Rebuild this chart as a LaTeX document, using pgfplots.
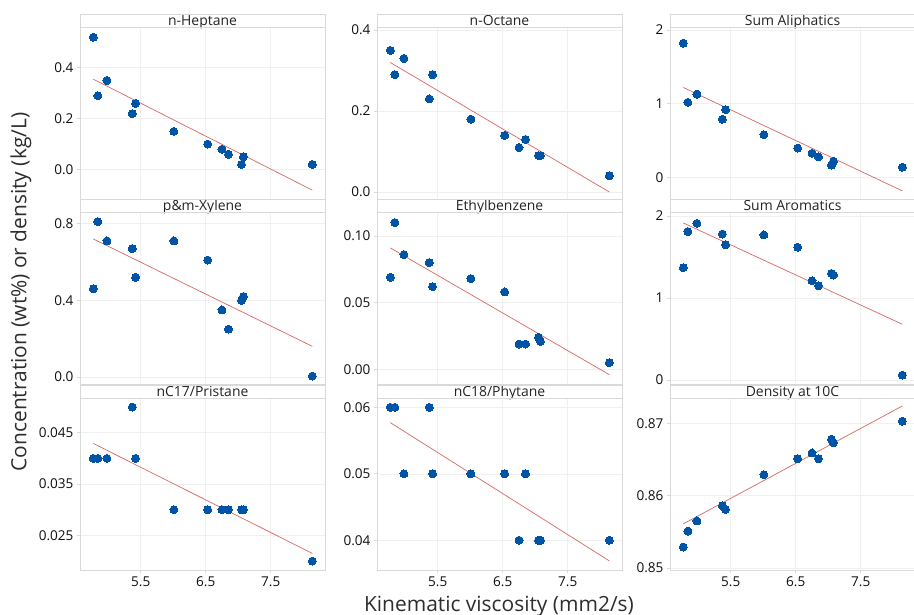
\documentclass[border=0pt]{standalone}
\usepackage{pgfplots}
\pgfplotsset{compat=1.18}
\usepackage{pgfplotstable}
\usepackage{fontspec}
\setmainfont{Open Sans}

\definecolor{dotc}{RGB}{0,84,166}
\definecolor{fitc}{RGB}{214,104,98}
\definecolor{framec}{RGB}{217,217,217}
\definecolor{gridc}{RGB}{240,240,240}
\definecolor{tickc}{RGB}{15,15,15}
\definecolor{titlec}{RGB}{35,35,35}
\definecolor{labc}{RGB}{45,45,45}

% viscosity (mm2/s) and the measured properties of each sample
\pgfplotstableread{
visc hep  oct  ali  xyl   eth   aro  pri   phy  dens
4.77 0.52 0.35 1.82 0.46  0.069 1.37 0.040 0.06 0.8529
4.84 0.29 0.29 1.02 0.81  0.110 1.81 0.040 0.06 0.8551
4.98 0.35 0.33 1.13 0.71  0.086 1.91 0.040 0.05 0.8565
5.37 0.22 0.23 0.79 0.67  0.080 1.78 0.050 0.06 0.8586
5.42 0.26 0.29 0.92 0.52  0.062 1.65 0.040 0.05 0.8581
6.01 0.15 0.18 0.58 0.71  0.068 1.77 0.030 0.05 0.8629
6.53 0.10 0.14 0.40 0.61  0.058 1.62 0.030 0.05 0.8651
6.75 0.08 0.11 0.33 0.35  0.019 1.21 0.030 0.04 0.8659
6.85 0.06 0.13 0.28 0.25  0.019 1.15 0.030 0.05 0.8651
7.05 0.02 0.09 0.17 0.40  0.024 1.30 0.030 0.04 0.8678
7.08 0.05 0.09 0.22 0.42  0.021 1.28 0.030 0.04 0.8673
8.14 0.02 0.04 0.14 0.005 0.005 0.06 0.020 0.04 0.8703
}\datatab

\pgfplotsset{
  panel/.style={
    scale only axis, width=245bp, height=172bp,
    anchor=north west,
    xmin=4.565, xmax=8.335,
    xtick={5.5,6.5,7.5}, xticklabels={5.5,6.5,7.5},
    scaled y ticks=false, scaled x ticks=false,
    grid=major,
    major grid style={color=gridc, line width=0.6bp},
    axis line style={color=framec, line width=0.8bp},
    tick style={color=framec, line width=0.7bp},
    tick align=outside, major tick length=3bp,
    xtick pos=bottom, ytick pos=left,
    /pgf/number format/assume math mode=true,
    ticklabel style={font=\fontsize{13.6}{15}\selectfont, text=tickc},
    every axis title/.style={at={(0.5,1)}, anchor=base, yshift=1.6bp,
      font=\fontsize{14}{16}\selectfont, text=titlec},
    extra description/.code={
      \draw[framec, line width=0.8bp] (axis description cs:0,1)
        rectangle ([yshift=13bp]axis description cs:1,1);
    },
  },
  upper/.style={xticklabels={}, x tick style={draw=none}},
  fit/.style={color=fitc, line width=0.7bp, no markers},
  dots/.style={only marks, mark=*, mark size=4bp, color=dotc,
    mark options={fill=dotc, draw=dotc, line width=0pt}},
}

\begin{document}
\begin{tikzpicture}
\useasboundingbox (0,0) rectangle (914bp,-615bp);

% ---- row 1 ----
\begin{axis}[panel, upper, at={(80bp,-27.3bp)}, title={n-Heptane},
  ymin=-0.117, ymax=0.559, ytick={0,0.2,0.4}, yticklabels={0.0,0.2,0.4}]
\addplot[fit] coordinates {(4.77,0.355) (8.14,-0.081)};
\addplot[dots] table[x=visc, y=hep] {\datatab};
\end{axis}

\begin{axis}[panel, upper, at={(377bp,-27.3bp)}, title={n-Octane},
  ymin=-0.018, ymax=0.407, ytick={0,0.2,0.4}, yticklabels={0.0,0.2,0.4}]
\addplot[fit] coordinates {(4.77,0.32) (8.14,0.0)};
\addplot[dots] table[x=visc, y=oct] {\datatab};
\end{axis}

\begin{axis}[panel, upper, at={(670bp,-27.3bp)}, title={Sum Aliphatics},
  ymin=-0.294, ymax=2.035, ytick={0,1,2}, yticklabels={0,1,2}]
\addplot[fit] coordinates {(4.77,1.22) (8.14,-0.18)};
\addplot[dots] table[x=visc, y=ali] {\datatab};
\end{axis}

% ---- row 2 ----
\begin{axis}[panel, upper, at={(80bp,-212.3bp)}, title={p\&m-Xylene},
  ymin=-0.038, ymax=0.859, ytick={0,0.4,0.8}, yticklabels={0.0,0.4,0.8}]
\addplot[fit] coordinates {(4.77,0.72) (8.14,0.16)};
\addplot[dots] table[x=visc, y=xyl] {\datatab};
\end{axis}

\begin{axis}[panel, upper, at={(377bp,-212.3bp)}, title={Ethylbenzene},
  ymin=-0.0112, ymax=0.1177, ytick={0,0.05,0.1}, yticklabels={0.00,0.05,0.10}]
\addplot[fit] coordinates {(4.77,0.091) (8.14,-0.004)};
\addplot[dots] table[x=visc, y=eth] {\datatab};
\end{axis}

\begin{axis}[panel, upper, at={(670bp,-212.3bp)}, title={Sum Aromatics},
  ymin=-0.052, ymax=2.045, ytick={0,1,2}, yticklabels={0,1,2}]
\addplot[fit] coordinates {(4.77,1.915) (8.14,0.68)};
\addplot[dots] table[x=visc, y=aro] {\datatab};
\end{axis}

% ---- row 3 ----
\begin{axis}[panel, at={(80bp,-398.3bp)}, title={nC17/Pristane},
  ymin=0.0182, ymax=0.0517, ytick={0.025,0.035,0.045},
  yticklabels={0.025,0.035,0.045}]
\addplot[fit] coordinates {(4.77,0.0429) (8.14,0.0215)};
\addplot[dots] table[x=visc, y=pri] {\datatab};
\end{axis}

\begin{axis}[panel, at={(377bp,-398.3bp)}, title={nC18/Phytane},
  ymin=0.03548, ymax=0.06136, ytick={0.04,0.05,0.06},
  yticklabels={0.04,0.05,0.06}]
\addplot[fit] coordinates {(4.77,0.0577) (8.14,0.0369)};
\addplot[dots] table[x=visc, y=phy] {\datatab};
\end{axis}

\begin{axis}[panel, at={(670bp,-398.3bp)}, title={Density at 10C},
  ymin=0.84968, ymax=0.87346, ytick={0.85,0.86,0.87},
  yticklabels={0.85,0.86,0.87}]
\addplot[fit] coordinates {(4.77,0.8561) (8.14,0.8724)};
\addplot[dots] table[x=visc, y=dens] {\datatab};
\end{axis}

% shared axis titles
\node[rotate=90, font=\fontsize{21}{24}\selectfont, text=labc]
  at (21bp,-292bp) {Concentration (wt\%) or density (kg/L)};
\node[anchor=base, font=\fontsize{21}{24}\selectfont, text=labc]
  at (499bp,-611.7bp) {Kinematic viscosity (mm2/s)};
\end{tikzpicture}
\end{document}
